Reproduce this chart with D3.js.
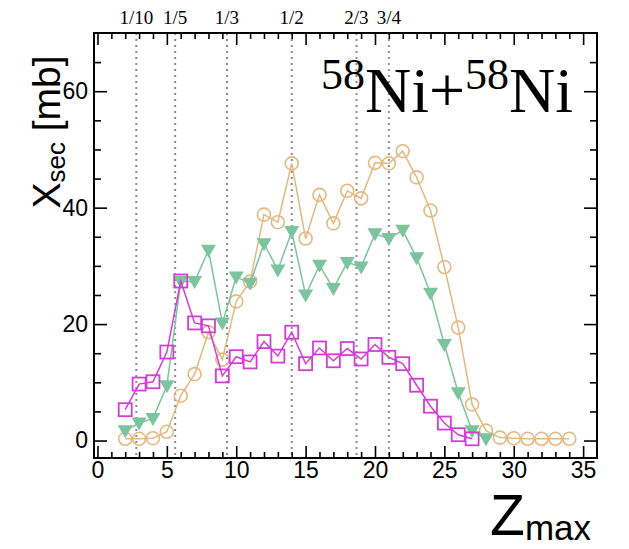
<!DOCTYPE html>
<html>
<head>
<meta charset="utf-8">
<script src="https://cdn.jsdelivr.net/npm/d3@7"></script>
<style>
  body { margin: 0; background: #fff; }
  svg { display: block; }
</style>
</head>
<body>
<div id="chart"></div>
<script>
// Z_max values and cross sections (mb) for each series
const zOrange = [2, 3, 4, 5, 6, 7, 8, 9, 10, 11, 12, 13, 14, 15, 16, 17, 18, 19, 20, 21, 22, 23, 24, 25, 26, 27, 28, 29, 30, 31, 32, 33, 34];
const xsecOrange = [0.3, 0.3, 0.4, 1.5, 7.7, 11.4, 18.6, 13.9, 23.9, 27.3, 38.8, 37.5, 47.6, 34.7, 42.2, 37.3, 42.9, 41.6, 47.7, 47.6, 49.7, 45.2, 39.5, 29.8, 19.4, 6.2, 1.7, 0.5, 0.4, 0.3, 0.3, 0.3, 0.3];

const zGreen = [2, 3, 4, 5, 6, 7, 8, 9, 10, 11, 12, 13, 14, 15, 16, 17, 18, 19, 20, 21, 22, 23, 24, 25, 26, 27, 28];
const xsecGreen = [1.7, 3.0, 3.8, 9.4, 27.3, 27.3, 32.7, 20.2, 28.1, 27.0, 33.8, 29.3, 35.9, 25.0, 30.1, 26.1, 30.6, 29.8, 35.5, 34.7, 36.1, 31.4, 25.3, 16.5, 8.2, 1.7, 0.3];

const zMagenta = [2, 3, 4, 5, 6, 7, 8, 9, 10, 11, 12, 13, 14, 15, 16, 17, 18, 19, 20, 21, 22, 23, 24, 25, 26, 27];
const xsecMagenta = [5.3, 9.7, 10.1, 15.2, 27.4, 20.2, 19.7, 11.1, 14.4, 13.5, 17.0, 14.5, 18.6, 13.2, 15.9, 13.7, 15.8, 14.0, 16.5, 14.3, 13.2, 9.5, 5.9, 3.0, 1.0, 0.3];

// axis ticks
const xTicks = [0, 5, 10, 15, 20, 25, 30, 35];
const yTicks = [0, 20, 40, 60];

// fractions of the total charge Z = 28
const zTotal = 28;
const fractionLabels = ["1/10", "1/5", "1/3", "1/2", "2/3", "3/4"];
const fractionValues = [1 / 10, 1 / 5, 1 / 3, 1 / 2, 2 / 3, 3 / 4];

const width = 629;
const height = 549;
const frame = { left: 94, right: 597, top: 33, bottom: 458 };

let svg = d3.select("#chart")
    .append("svg")
    .attr("width", width)
    .attr("height", height);

const x = d3.scaleLinear().domain([-0.25, 36]).range([frame.left, frame.right]);
const y = d3.scaleLinear().domain([-3, 70]).range([frame.bottom, frame.top]);

const xMinor = d3.range(0, 36).filter(v => v % 5 != 0);
const yMinor = d3.range(0, 70, 5).filter(v => v % 20 != 0);

// dotted lines at the charge fractions
svg.append("g")
    .selectAll("line")
    .data(fractionValues)
    .enter()
    .append("line")
    .attr("x1", d => x(d * zTotal))
    .attr("x2", d => x(d * zTotal))
    .attr("y1", frame.top)
    .attr("y2", frame.bottom)
    .attr("stroke", "#8c8c8c")
    .attr("stroke-width", 2)
    .attr("stroke-dasharray", "2,4");

svg.append("g")
    .selectAll("text")
    .data(fractionLabels)
    .enter()
    .append("text")
    .attr("x", (d, i) => x(fractionValues[i] * zTotal))
    .attr("y", 24)
    .attr("text-anchor", "middle")
    .attr("font-family", "Liberation Serif, Times New Roman, serif")
    .attr("font-size", "19px")
    .text(d => d);

// axes: ticks point inward on all four sides
function styleAxis(g) {
    g.select(".domain").remove();
    g.selectAll(".tick line").attr("stroke", "#000").attr("stroke-width", 1.6);
    g.selectAll(".tick text")
        .attr("font-family", "Liberation Sans, Arial, sans-serif")
        .attr("font-size", "23px")
        .attr("fill", "#000");
}

svg.append("g")
    .attr("transform", `translate(0,${frame.bottom})`)
    .call(d3.axisBottom(x).tickValues(xTicks).tickSize(-12).tickPadding(4))
    .call(styleAxis);
svg.append("g")
    .attr("transform", `translate(0,${frame.bottom})`)
    .call(d3.axisBottom(x).tickValues(xMinor).tickSize(-6).tickFormat(""))
    .call(styleAxis);
svg.append("g")
    .attr("transform", `translate(0,${frame.top})`)
    .call(d3.axisTop(x).tickValues(xTicks).tickSize(-12).tickFormat(""))
    .call(styleAxis);
svg.append("g")
    .attr("transform", `translate(0,${frame.top})`)
    .call(d3.axisTop(x).tickValues(xMinor).tickSize(-6).tickFormat(""))
    .call(styleAxis);

svg.append("g")
    .attr("transform", `translate(${frame.left},0)`)
    .call(d3.axisLeft(y).tickValues(yTicks).tickSize(-13).tickPadding(6))
    .call(styleAxis);
svg.append("g")
    .attr("transform", `translate(${frame.left},0)`)
    .call(d3.axisLeft(y).tickValues(yMinor).tickSize(-7).tickFormat(""))
    .call(styleAxis);
svg.append("g")
    .attr("transform", `translate(${frame.right},0)`)
    .call(d3.axisRight(y).tickValues(yTicks).tickSize(-13).tickFormat(""))
    .call(styleAxis);
svg.append("g")
    .attr("transform", `translate(${frame.right},0)`)
    .call(d3.axisRight(y).tickValues(yMinor).tickSize(-7).tickFormat(""))
    .call(styleAxis);

svg.append("rect")
    .attr("x", frame.left)
    .attr("y", frame.top)
    .attr("width", frame.right - frame.left)
    .attr("height", frame.bottom - frame.top)
    .attr("fill", "none")
    .attr("stroke", "#000")
    .attr("stroke-width", 2);

// series
const series = [
    { z: zOrange, v: xsecOrange, color: "#e3b982", marker: "circle" },
    { z: zGreen, v: xsecGreen, color: "#7cc49d", marker: "triangle" },
    { z: zMagenta, v: xsecMagenta, color: "#d23ed6", marker: "square" }
];

const line = d3.line().x(d => x(d[0])).y(d => y(d[1]));

series.forEach(s => {
    const pts = s.z.map((z, i) => [z, s.v[i]]);
    let g = svg.append("g");
    g.append("path")
        .datum(pts)
        .attr("d", line)
        .attr("fill", "none")
        .attr("stroke", s.color)
        .attr("stroke-width", 1.5);

    let m = g.selectAll(".m")
        .data(pts)
        .enter();
    if (s.marker == "circle") {
        m.append("circle")
            .attr("cx", d => x(d[0]))
            .attr("cy", d => y(d[1]))
            .attr("r", 6.5)
            .attr("fill", "none")
            .attr("stroke", s.color)
            .attr("stroke-width", 1.6);
    } else if (s.marker == "square") {
        m.append("rect")
            .attr("x", d => x(d[0]) - 6.5)
            .attr("y", d => y(d[1]) - 6.5)
            .attr("width", 13)
            .attr("height", 13)
            .attr("fill", "none")
            .attr("stroke", s.color)
            .attr("stroke-width", 1.8);
    } else {
        m.append("path")
            .attr("transform", d => `translate(${x(d[0])},${y(d[1])})`)
            .attr("d", "M-7.5,-5.5L7.5,-5.5L0,7.5Z")
            .attr("fill", s.color)
            .attr("stroke", "none");
    }
});

// title
let title = svg.append("text")
    .attr("x", 321)
    .attr("y", 112)
    .attr("font-family", "Liberation Serif, Times New Roman, serif")
    .attr("font-size", "64px")
    .attr("fill", "#000");
title.append("tspan").attr("font-size", "44px").attr("dy", -23).text("58");
title.append("tspan").attr("dy", 23).text("Ni+");
title.append("tspan").attr("font-size", "44px").attr("dy", -23).text("58");
title.append("tspan").attr("dy", 23).text("Ni");

// axis titles
let xTitle = svg.append("text")
    .attr("x", 591)
    .attr("y", 535)
    .attr("text-anchor", "end")
    .attr("font-family", "Liberation Sans, Arial, sans-serif")
    .attr("font-size", "57px")
    .attr("fill", "#000");
xTitle.append("tspan").text("Z");
xTitle.append("tspan").attr("font-size", "35px").attr("dy", 5).text("max");

let yTitle = svg.append("text")
    .attr("transform", "translate(60,132) rotate(-90)")
    .attr("text-anchor", "middle")
    .attr("font-family", "Liberation Sans, Arial, sans-serif")
    .attr("font-size", "39px")
    .attr("fill", "#000");
yTitle.append("tspan").text("X");
yTitle.append("tspan").attr("font-size", "26px").attr("dy", 5).text("sec");
yTitle.append("tspan").attr("dy", -5).text(" [mb]");
</script>
</body>
</html>
